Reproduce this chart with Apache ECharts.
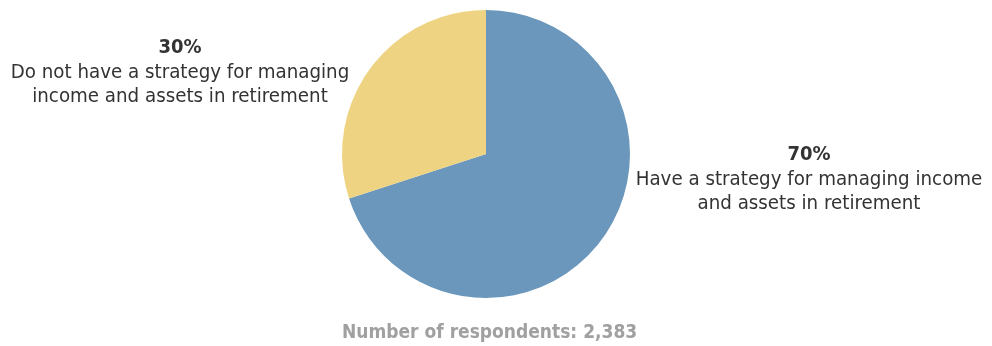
<!DOCTYPE html>
<html>
<head>
<meta charset="utf-8">
<script src="https://cdn.jsdelivr.net/npm/echarts@6/dist/echarts.min.js"></script>
<style>
  html, body { margin: 0; padding: 0; background: #fff; }
  #chart { width: 992px; height: 346px; }
</style>
</head>
<body>
<div id="chart"></div>
<script>
  // data
  var categories = [
    'Have a strategy for managing income\nand assets in retirement',
    'Do not have a strategy for managing\nincome and assets in retirement'
  ];
  var values = [70, 30];
  var colors = ['#6a97bb', '#edd382'];
  var respondents = '2,383';

  // where each label block sits (center point)
  var labelPos = [[809, 179], [180, 72]];

  var fontFam = '"Liberation Sans Narrow", "DejaVu Sans Condensed", sans-serif';

  var chart = echarts.init(document.getElementById('chart'));

  var option = {
    animation: false,
    title: {
      text: 'Number of respondents: ' + respondents,
      left: 337,
      top: 319,
      textStyle: {
        color: '#a0a0a0',
        fontSize: 19,
        fontWeight: 'bold',
        fontFamily: fontFam
      }
    },
    series: [{
      type: 'pie',
      center: [486, 154],
      radius: 144,
      startAngle: 90,
      clockwise: true,
      silent: true,
      itemStyle: { borderWidth: 0 },
      labelLine: { show: false },
      label: {
        show: true,
        overflow: 'none',
        width: 400,
        formatter: function (p) {
          var lines = p.name.split('\n').map(function (l) { return '{t|' + l + '}'; });
          return '{p|' + p.value + '%}\n' + lines.join('\n');
        },
        rich: {
          p: { fontSize: 20, fontWeight: 'bold', color: '#333', fontFamily: fontFam, lineHeight: 26, align: 'center' },
          t: { fontSize: 20.3, color: '#333', fontFamily: fontFam, lineHeight: 24, align: 'center' }
        }
      },
      labelLayout: function (params) {
        var pos = labelPos[params.dataIndex];
        return { x: pos[0], y: pos[1], align: 'center', verticalAlign: 'middle' };
      },
      data: categories.map(function (c, i) {
        return { name: c, value: values[i], itemStyle: { color: colors[i] } };
      })
    }]
  };

  chart.setOption(option);
</script>
</body>
</html>
